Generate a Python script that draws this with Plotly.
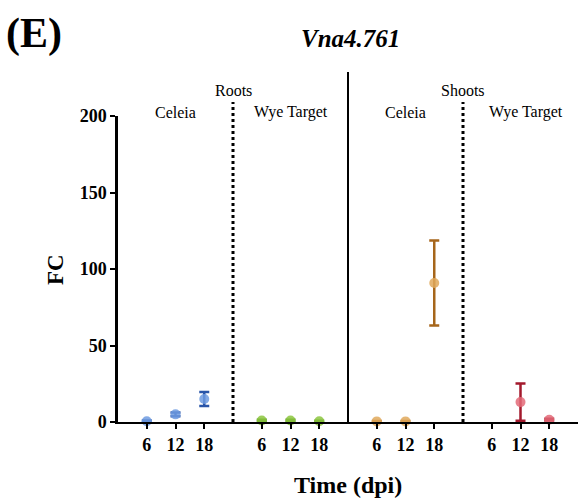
import plotly.graph_objects as go

# Sampling days (dpi) and their slot positions on the shared x axis
days = ["6", "12", "18"]
slots = {
    "Roots Celeia": [1, 2, 3],
    "Roots Wye Target": [5, 6, 7],
    "Shoots Celeia": [9, 10, 11],
    "Shoots Wye Target": [13, 14, 15],
}

# Fold change (mean) and error per group; None = not detected
fc_roots_celeia = [0.5, 5.0, 15.0]
err_roots_celeia = [0.5, 1.2, 4.6]
fc_roots_wye = [1.0, 1.0, 0.5]
err_roots_wye = [0.4, 0.4, 0.3]
fc_shoots_celeia = [0.4, 0.4, 90.8]
err_shoots_celeia = [0.2, 0.2, 27.8]
fc_shoots_wye = [None, 13.0, 1.5]
err_shoots_wye = [None, 12.2, 0.6]

groups = [
    ("Roots Celeia", fc_roots_celeia, err_roots_celeia, "#6f9be0", "#2a55a8"),
    ("Roots Wye Target", fc_roots_wye, err_roots_wye, "#8cc63e", "#4a8a1c"),
    ("Shoots Celeia", fc_shoots_celeia, err_shoots_celeia, "#e0a95c", "#a6661b"),
    ("Shoots Wye Target", fc_shoots_wye, err_shoots_wye, "#e36a78", "#a3192c"),
]

font_family = "Liberation Serif, Times New Roman, serif"

fig = go.Figure()
for name, vals, errs, fill, dark in groups:
    fig.add_trace(go.Scatter(
        x=slots[name], y=vals, mode="markers", name=name,
        marker=dict(size=10, color=fill, opacity=0.85, line=dict(width=0)),
        error_y=dict(type="data", array=errs, visible=True,
                     color=dark, thickness=2.5, width=5),
        cliponaxis=False, showlegend=False,
    ))

tickvals = [p for k in slots for p in slots[k]]
ticktext = days * 4

L, T, B = 118, 116, 76
W, H = 578, 498
plot_w = W - L
plot_h = H - T - B


def px_x(px):
    return (px - L) / plot_w


def px_y(py):
    return (H - B - py) / plot_h


fig.update_layout(
    width=W, height=H,
    margin=dict(l=L, r=0, t=T, b=B),
    plot_bgcolor="white", paper_bgcolor="white",
    font=dict(family=font_family, color="black"),
    xaxis=dict(
        range=[0, 16], tickvals=tickvals, ticktext=ticktext,
        showgrid=False, zeroline=False, showline=True,
        linecolor="black", linewidth=2, ticks="outside",
        ticklen=5, tickwidth=2, tickcolor="black",
        tickfont=dict(size=18, family=font_family, weight="bold"),
    ),
    yaxis=dict(
        range=[0, 200], tickvals=[0, 50, 100, 150, 200],
        showgrid=False, zeroline=False, showline=True,
        linecolor="black", linewidth=2.5, ticks="outside",
        ticklen=5, tickwidth=2, tickcolor="black",
        tickfont=dict(size=18, family=font_family, weight="bold"),
    ),
)

# Separators: dotted between cultivars, solid between tissues
for xs in (4, 12):
    fig.add_shape(type="line", xref="x", yref="paper", x0=xs, x1=xs,
                  y0=0, y1=px_y(102), line=dict(color="black", width=3, dash="dot"))
fig.add_shape(type="line", xref="x", yref="paper", x0=8, x1=8, y0=0, y1=px_y(72),
              line=dict(color="black", width=2))

labels = [
    (4, 90, "Roots"), (2, 112, "Celeia"), (6, 112, "Wye Target"),
    (12, 90, "Shoots"), (10, 112, "Celeia"), (14.2, 112, "Wye Target"),
]
for x, py, t in labels:
    fig.add_annotation(x=x, y=px_y(py), xref="x", yref="paper", text=t,
                       showarrow=False, yanchor="middle",
                       font=dict(size=16, family=font_family))

# Title, panel letter and axis titles
fig.add_annotation(x=px_x(350), y=px_y(38), xref="paper", yref="paper",
                   text="<b><i>Vna4.761</i></b>", showarrow=False,
                   xanchor="center", yanchor="middle",
                   font=dict(size=25, family=font_family))
fig.add_annotation(x=px_x(34), y=px_y(33), xref="paper", yref="paper",
                   text="<b>(E)</b>", showarrow=False,
                   xanchor="center", yanchor="middle",
                   font=dict(size=42, family=font_family))
fig.add_annotation(x=px_x(348), y=px_y(485), xref="paper", yref="paper",
                   text="<b>Time (dpi)</b>", showarrow=False,
                   xanchor="center", yanchor="middle",
                   font=dict(size=24, family=font_family))
fig.add_annotation(x=px_x(55), y=px_y(270), xref="paper", yref="paper",
                   text="<b>FC</b>", showarrow=False, textangle=-90,
                   xanchor="center", yanchor="middle",
                   font=dict(size=23, family=font_family))

fig.write_html("out.html")
